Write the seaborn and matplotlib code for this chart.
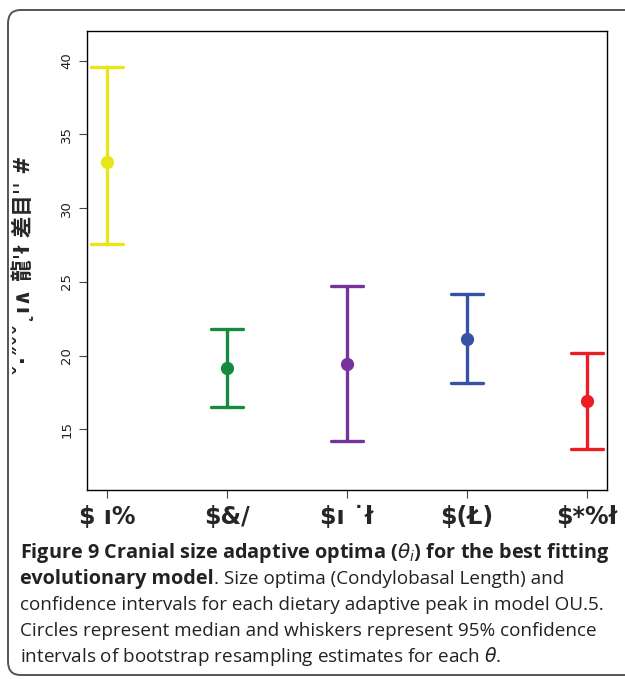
import numpy as np
import pandas as pd
import matplotlib.pyplot as plt
import seaborn as sns
from matplotlib.patches import FancyBboxPatch

# dietary adaptive peaks (labels are as garbled in the source figure)
groups = ['$ ı%', '$&/', '$ı ˙ł', '$(Ł)', '$*%ł']
medians = [33.1, 19.2, 19.45, 21.15, 16.95]
lowers = [27.6, 16.5, 14.25, 18.15, 13.7]
uppers = [39.55, 21.8, 24.75, 24.15, 20.2]
colours = ['#e8e619', '#168a3e', '#76349a', '#3752a5', '#ee1d25']
ylab = 'ˇ·˝ˇˇ˛ı∧ 龍ˈł 差目ˈˈ #'

# long form: each group gets lower/median/upper, median is the estimator,
# full percentile interval gives the whiskers
rows = []
for g, lo, md, up in zip(groups, lowers, medians, uppers):
    for v in (lo, md, up):
        rows.append({'group': g, 'size': v})
df = pd.DataFrame(rows)

sns.set_style('white')
fig = plt.figure(figsize=(6.25, 6.79), dpi=100)
ax = fig.add_axes([87/625, 1-490/679, 520/625, 459/679])

sns.pointplot(data=df, x='group', y='size', hue='group', palette=colours,
              estimator=np.median, errorbar=('pi', 100), capsize=0.27,
              linestyle='none', markersize=7.5, err_kws={'linewidth': 2.4},
              legend=False, ax=ax)

ax.set_xlim(-0.167, 4.167)
ax.set_ylim(10.9, 42)
ax.set_yticks([15, 20, 25, 30, 35, 40])
ax.set_yticklabels(['15', '20', '25', '30', '35', '40'], rotation=90,
                   va='center', fontsize=9.5, color='#222222')
ax.set_xticks(range(5))
ax.set_xticklabels(groups, fontsize=17, fontweight='heavy',
                   family=['DejaVu Sans', 'Liberation Sans'])
ax.tick_params(axis='both', which='both', direction='out', length=6,
               width=0.8, color='#444444', left=True, bottom=True)
ax.tick_params(axis='x', pad=5)
ax.tick_params(axis='y', pad=4)
for s in ax.spines.values():
    s.set_color('black')
    s.set_linewidth(1.0)
ax.set_xlabel('')
ax.set_ylabel('')
fig.text(23/625, 1-265/679, ylab, rotation=90, ha='center', va='center',
         fontsize=15.5, fontweight='bold', family=['DejaVu Sans', 'Noto Sans CJK SC'])

# frame around figure + caption
box = FancyBboxPatch((8/625, 1-675/679), 640/625, 665/679,
                     boxstyle='round,pad=0,rounding_size=0.02',
                     transform=fig.transFigure, fill=False,
                     edgecolor='#555555', linewidth=1.4, clip_on=False)
fig.patches.append(box)

cap_font = 'Open Sans'
fs = 13.6
fsb = 14.3
x0 = 20/625
ys = [553, 579, 605, 631, 657]
fig.text(x0, 1-ys[0]/679, r'Figure 9 Cranial size adaptive optima ($\theta_i$) for the best fitting',
         fontsize=fsb, fontweight='bold', family=cap_font, va='center', color='#222222')
t = fig.text(x0, 1-ys[1]/679, 'evolutionary model', fontsize=fsb, fontweight='bold',
             family=cap_font, va='center', color='#222222')
r = fig.canvas.get_renderer()
bb = t.get_window_extent(r)
fig.text(bb.x1/fig.bbox.width, 1-ys[1]/679, '. Size optima (Condylobasal Length) and',
         fontsize=fs, family=cap_font, va='center', color='#222222')
fig.text(x0, 1-ys[2]/679, 'confidence intervals for each dietary adaptive peak in model OU.5.',
         fontsize=fs, family=cap_font, va='center', color='#222222')
fig.text(x0, 1-ys[3]/679, 'Circles represent median and whiskers represent 95% confidence',
         fontsize=fs, family=cap_font, va='center', color='#222222')
fig.text(x0, 1-ys[4]/679, r'intervals of bootstrap resampling estimates for each $\theta$.',
         fontsize=fs, family=cap_font, va='center', color='#222222')

fig.savefig('out.png', dpi=100)
